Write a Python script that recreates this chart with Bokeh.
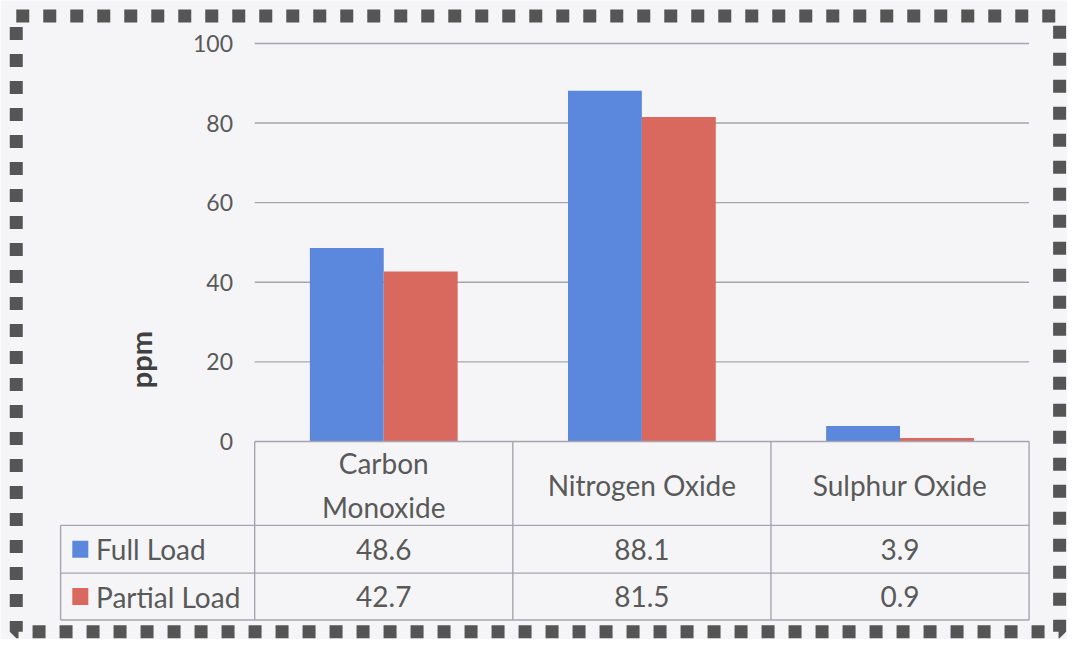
import math
from bokeh.plotting import figure
from bokeh.models import Range1d
from bokeh.core.properties import value
from bokeh.embed import file_html
from bokeh.resources import INLINE

# ---- data ----
categories = ["Carbon\nMonoxide", "Nitrogen Oxide", "Sulphur Oxide"]
series_names = ["Full Load", "Partial Load"]
full_load = [48.6, 88.1, 3.9]
partial_load = [42.7, 81.5, 0.9]
y_ticks = [0, 20, 40, 60, 80, 100]
y_label = "ppm"

# ---- styles ----
BLUE = "#5B88DD"
RED = "#D9695F"
TXT = "#595959"
GRID = "#A5A5B0"
BG = "#F5F5F8"
FONT = value("Lato")

W, H = 1067, 639
RW, RH = 1083.0, 655.0
SX, SY = W / RW, H / RH

# layout (reference pixel positions, scaled into the figure)
PX_LEFT, PX_RIGHT = 258 * SX, 1044 * SX     # x = -0.5 .. 2.5
PX_Y0, PX_Y100 = 452 * SY, 44 * SY          # y = 0 .. 100
ppx = (PX_RIGHT - PX_LEFT) / 3.0
ppy = (PX_Y0 - PX_Y100) / 100.0
x_start = -0.5 - PX_LEFT / ppx
x_end = 2.5 + (W - PX_RIGHT) / ppx
y_end = 100 + PX_Y100 / ppy
y_start = -(H - PX_Y0) / ppy

def dx(rx):  # reference pixel x -> data x
    return x_start + rx * SX / ppx

def dy(ry):  # reference pixel y (from top) -> data y
    return y_end - ry * SY / ppy

p = figure(width=W, height=H, output_backend="svg", toolbar_location=None,
           x_range=Range1d(x_start, x_end), y_range=Range1d(y_start, y_end),
           min_border=0, border_fill_color=BG, background_fill_color=BG,
           outline_line_color=None, tools="")
p.axis.visible = False
p.grid.visible = False

n = len(categories)
xc = list(range(n))
bw = 75 * SX / ppx

# gridlines
gy = [t for t in y_ticks if t > 0]
p.segment(x0=[-0.5] * len(gy), x1=[n - 0.5] * len(gy), y0=gy, y1=gy,
          line_color=GRID, line_width=1.4)

# bars
p.vbar(x=[c - bw / 2 for c in xc], top=full_load, width=bw, bottom=0,
       fill_color=BLUE, line_color=None)
p.vbar(x=[c + bw / 2 for c in xc], top=partial_load, width=bw, bottom=0,
       fill_color=RED, line_color=None)

# y tick labels
p.text(x=[dx(236)] * len(y_ticks), y=y_ticks, text=[str(t) for t in y_ticks],
       text_align="right", text_baseline="middle", text_font=FONT,
       text_font_size="23px", text_color=TXT)

# y axis label
p.text(x=[dx(142)], y=[dy(368)], text=[y_label], angle=math.pi / 2,
       text_align="center", text_baseline="middle", text_font=FONT,
       text_font_size="29px", text_font_style="bold", text_color="#404040")

# data table
row1_top = dy(538)
row2_top = dy(587)
tbl_bot = dy(635)
tbl_left = dx(61)
hx0 = [-0.5, tbl_left, tbl_left, tbl_left]
hx1 = [n - 0.5] * 4
hy = [0, row1_top, row2_top, tbl_bot]
p.segment(x0=hx0, x1=hx1, y0=hy, y1=hy, line_color=GRID, line_width=1.4)
vx = [c - 0.5 for c in range(n + 1)] + [tbl_left]
vy0 = [0] * (n + 1) + [row1_top]
p.segment(x0=vx, x1=vx, y0=vy0, y1=[tbl_bot] * (n + 2),
          line_color=GRID, line_width=1.4)

# header
p.text(x=xc, y=[dy(497)] * n, text=categories, text_align="center",
       text_baseline="middle", text_font=FONT, text_font_size="28px",
       text_color=TXT, text_line_height=1.3)
# values
r1y = (row1_top + row2_top) / 2
r2y = (row2_top + tbl_bot) / 2
p.text(x=xc, y=[r1y] * n, text=[f"{v}" for v in full_load], text_align="center",
       text_baseline="middle", text_font=FONT, text_font_size="28px", text_color=TXT)
p.text(x=xc, y=[r2y] * n, text=[f"{v}" for v in partial_load], text_align="center",
       text_baseline="middle", text_font=FONT, text_font_size="28px", text_color=TXT)
# legend keys
p.rect(x=[dx(81)] * 2, y=[r1y, r2y], width=16, height=17, width_units="screen",
       height_units="screen", fill_color=[BLUE, RED], line_color=None)
p.text(x=[dx(97)] * 2, y=[r1y, r2y], text=series_names, text_align="left",
       text_baseline="middle", text_font=FONT, text_font_size="28px", text_color=TXT)

# dashed frame around the whole chart
bx0, bx1 = dx(16), dx(1075)
by0, by1 = dy(16), dy(647)
p.line(x=[bx0, bx1, bx1, bx0, bx0], y=[by0, by0, by1, by1, by0],
       line_color="#555555", line_width=13, line_dash="13 14")

open("out.html", "w").write(file_html(p, INLINE))
